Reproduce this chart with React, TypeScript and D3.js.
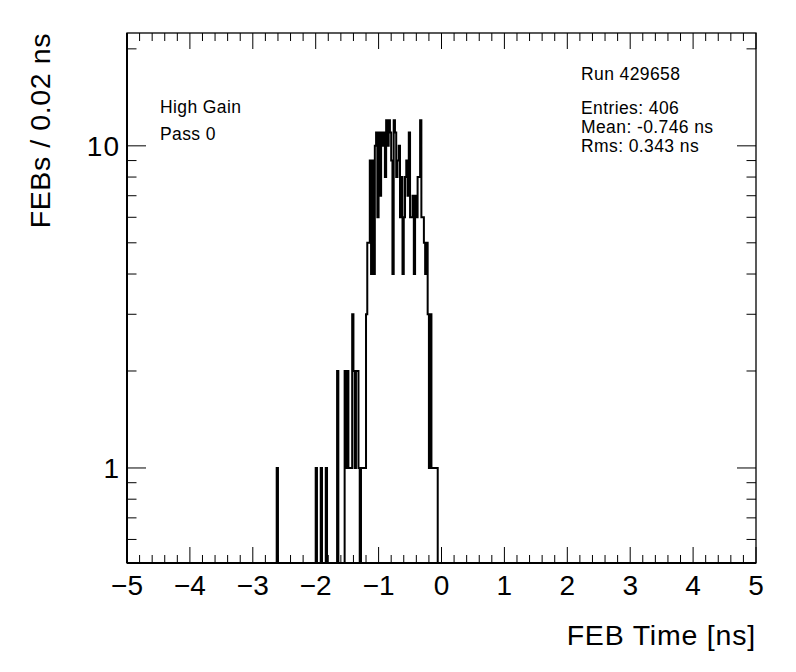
import * as d3 from 'd3';

// histogram: 500 bins of 0.02 ns from -5 to 5, only filled bins listed (low edge, count)
const binWidth = 0.02;
const xMin = -5;
const xMax = 5;
const binLow = [
  -2.62, -2.0, -1.92, -1.84, -1.66, -1.54, -1.52, -1.5, -1.48, -1.46, -1.44, -1.42, -1.4,
  -1.38, -1.36, -1.34, -1.32, -1.28, -1.26, -1.24, -1.22, -1.2,
  -1.18, -1.16, -1.14, -1.12, -1.1, -1.08, -1.06, -1.04, -1.02, -1.0,
  -0.98, -0.96, -0.94, -0.92, -0.9, -0.88, -0.86, -0.84, -0.82, -0.8,
  -0.78, -0.76, -0.74, -0.72, -0.7, -0.68, -0.66, -0.64, -0.62, -0.6,
  -0.58, -0.56, -0.54, -0.52, -0.5, -0.48, -0.46, -0.44, -0.42, -0.4,
  -0.38, -0.36, -0.34, -0.32, -0.3, -0.28, -0.26, -0.24, -0.22, -0.2,
  -0.18, -0.16, -0.14, -0.12, -0.1, -0.08,
];
const binCount = [
  1, 1, 1, 1, 2, 2, 1, 2, 1, 1, 1, 3, 2,
  1, 2, 2, 1, 1, 1, 1, 1, 3,
  5, 5, 9, 4, 9, 4, 10, 11, 6, 11,
  7, 11, 10, 11, 8, 12, 10, 12, 11, 9,
  4, 12, 11, 8, 9, 10, 6, 8, 4, 6,
  8, 9, 7, 11, 6, 6, 7, 4, 7, 6,
  8, 8, 12, 6, 6, 5, 4, 5, 3, 1,
  3, 1, 1, 1, 1, 1,
];

const xTicks = [-5, -4, -3, -2, -1, 0, 1, 2, 3, 4, 5];
const yMajor = [1, 10];
const yMinor = [0.6, 0.7, 0.8, 0.9, 2, 3, 4, 5, 6, 7, 8, 9, 20];
const statLines = ['Entries: 406', 'Mean: -0.746 ns', 'Rms: 0.343 ns'];
const runLabel = 'Run 429658';
const infoLines = ['High Gain', 'Pass 0'];

const width = 796;
const height = 672;
const frame = { left: 127, right: 756, top: 33, bottom: 563 };
const font = '"Liberation Sans", Arial, Helvetica, sans-serif';

export default function App() {
  const x = d3.scaleLinear().domain([xMin, xMax]).range([frame.left, frame.right]);
  const y = d3.scaleLog().domain([0.507, 22.4]).range([frame.bottom, frame.top]);

  // fill every bin, empty ones fall to the bottom of the frame
  const nBins = Math.round((xMax - xMin) / binWidth);
  const counts = new Array(nBins).fill(0);
  binLow.forEach((lo, i) => {
    const k = Math.round((lo - xMin) / binWidth);
    counts[k] = binCount[i];
  });
  const pts: [number, number][] = [];
  counts.forEach((c, k) => {
    const lo = xMin + k * binWidth;
    const yy = c > 0 ? y(c) : frame.bottom;
    pts.push([x(lo), yy]);
    pts.push([x(lo + binWidth), yy]);
  });
  const histPath = d3.line()(pts) || '';

  const minorX = d3.range(0, 51).map((i) => xMin + i * 0.2);
  const majLenX = 16;
  const minLenX = 8;
  const majLenY = 19;
  const minLenY = 9.5;

  return (
    <div style={{ position: 'absolute', left: 0, top: 0 }}>
      <svg width={width} height={height} style={{ display: 'block', background: '#fff' }}>
        <rect x={0} y={0} width={width} height={height} fill="#fff" />
        <defs>
          <clipPath id="frameClip">
            <rect x={frame.left} y={frame.top} width={frame.right - frame.left} height={frame.bottom - frame.top} />
          </clipPath>
        </defs>

        {/* histogram */}
        <path d={histPath} fill="none" stroke="#000" strokeWidth={2} clipPath="url(#frameClip)" />

        {/* frame */}
        <rect
          x={frame.left}
          y={frame.top}
          width={frame.right - frame.left}
          height={frame.bottom - frame.top}
          fill="none"
          stroke="#000"
          strokeWidth={1.3}
        />
        <line x1={frame.left} x2={frame.right} y1={frame.bottom} y2={frame.bottom} stroke="#000" strokeWidth={2} />
        <line x1={frame.left} x2={frame.left} y1={frame.top} y2={frame.bottom} stroke="#000" strokeWidth={2} />

        {/* x ticks, bottom and top */}
        {minorX.map((v, i) => {
          const len = i % 5 === 0 ? majLenX : minLenX;
          return (
            <g key={`xt-${i}`} stroke="#000" strokeWidth={1}>
              <line x1={x(v)} x2={x(v)} y1={frame.bottom} y2={frame.bottom - len} />
              <line x1={x(v)} x2={x(v)} y1={frame.top} y2={frame.top + len} />
            </g>
          );
        })}
        {xTicks.map((v) => (
          <text
            key={`xl-${v}`}
            x={x(v)}
            y={595}
            textAnchor="middle"
            fontFamily={font}
            fontSize={28}
          >
            {v < 0 ? `\u2212${Math.abs(v)}` : `${v}`}
          </text>
        ))}

        {/* y ticks, left and right */}
        {yMajor.map((v) => (
          <g key={`ym-${v}`} stroke="#000" strokeWidth={1}>
            <line x1={frame.left} x2={frame.left + majLenY} y1={y(v)} y2={y(v)} />
            <line x1={frame.right} x2={frame.right - majLenY} y1={y(v)} y2={y(v)} />
          </g>
        ))}
        {yMinor.map((v) => (
          <g key={`yn-${v}`} stroke="#000" strokeWidth={1}>
            <line x1={frame.left} x2={frame.left + minLenY} y1={y(v)} y2={y(v)} />
            <line x1={frame.right} x2={frame.right - minLenY} y1={y(v)} y2={y(v)} />
          </g>
        ))}
        {yMajor.map((v) => (
          <text
            key={`yl-${v}`}
            x={120}
            y={y(v) + 10}
            textAnchor="end"
            fontFamily={font}
            fontSize={28}
            letterSpacing={1}
          >
            {v}
          </text>
        ))}

        {/* axis titles */}
        <text x={frame.right} y={645} textAnchor="end" fontFamily={font} fontSize={28.5} letterSpacing={0.8}>
          FEB Time [ns]
        </text>
        <text
          transform={`translate(50, ${frame.top}) rotate(-90)`}
          textAnchor="end"
          fontFamily={font}
          fontSize={28.5}
          letterSpacing={0.6}
        >
          FEBs / 0.02 ns
        </text>

        {/* labels */}
        <text x={581} y={80} fontFamily={font} fontSize={17.5} letterSpacing={0.4}>
          {runLabel}
        </text>
        {statLines.map((s, i) => (
          <text key={s} x={581} y={114 + i * 18.8} fontFamily={font} fontSize={17.5} letterSpacing={0.4}>
            {s}
          </text>
        ))}
        {infoLines.map((s, i) => (
          <text key={s} x={160} y={113 + i * 27} fontFamily={font} fontSize={17.5} letterSpacing={0.4}>
            {s}
          </text>
        ))}
      </svg>
    </div>
  );
}
